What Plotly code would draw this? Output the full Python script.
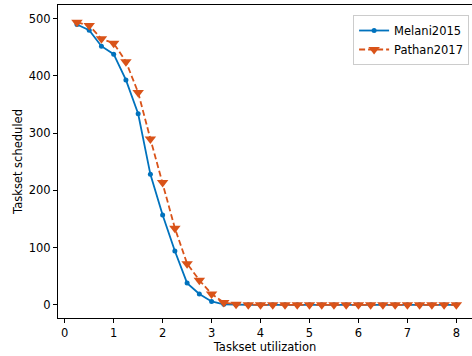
import plotly.graph_objects as go

utilization = [0.25, 0.5, 0.75, 1.0, 1.25, 1.5, 1.75, 2.0, 2.25, 2.5, 2.75, 3.0,
               3.25, 3.5, 3.75, 4.0, 4.25, 4.5, 4.75, 5.0, 5.25, 5.5, 5.75, 6.0,
               6.25, 6.5, 6.75, 7.0, 7.25, 7.5, 7.75, 8.0]
melani2015 = [490, 480, 452, 438, 393, 334, 228, 157, 94, 38, 19, 6,
              1, 0, 0, 0, 0, 0, 0, 0, 0, 0, 0, 0,
              0, 0, 0, 0, 0, 0, 0, 0]
pathan2017 = [494, 488, 465, 457, 425, 371, 290, 214, 134, 72, 43, 19,
              4, 1, 0, 0, 0, 0, 0, 0, 0, 0, 0, 0,
              0, 0, 0, 0, 0, 0, 0, 0]

x_ticks = [0, 1, 2, 3, 4, 5, 6, 7, 8]
y_ticks = [0, 100, 200, 300, 400, 500]

fig = go.Figure()
fig.add_trace(go.Scatter(
    x=utilization, y=melani2015, name="Melani2015", mode="lines+markers",
    line=dict(color="#0072BD", width=1.8),
    marker=dict(symbol="circle", size=5, color="#0072BD")))
fig.add_trace(go.Scatter(
    x=utilization, y=pathan2017, name="Pathan2017", mode="lines+markers",
    line=dict(color="#D95319", width=1.8, dash="6px,3px"),
    marker=dict(symbol="triangle-down", size=10, color="#D95319")))

font = dict(family="DejaVu Sans", size=11.5, color="#000000")
fig.update_layout(
    width=472, height=356,
    margin=dict(l=58, r=0, t=5, b=38),
    plot_bgcolor="white", paper_bgcolor="white",
    font=font,
    showlegend=True,
    legend=dict(x=0.993, y=0.968, xanchor="right", yanchor="top",
                bgcolor="rgba(255,255,255,0.8)", bordercolor="#cccccc", borderwidth=1,
                font=dict(family="DejaVu Sans", size=11.5, color="#000000"),
                tracegroupgap=0, itemwidth=30),
    xaxis=dict(range=[-0.1375, 8.32], tickvals=x_ticks, ticks="outside", ticklen=4,
               tickcolor="#000000", showline=True, linecolor="#000000", linewidth=1,
               mirror=True, showgrid=False, zeroline=False,
               title=dict(text="Taskset utilization", standoff=4, font=font)),
    yaxis=dict(range=[-23, 524], tickvals=y_ticks, ticks="outside", ticklen=4,
               tickcolor="#000000", showline=True, linecolor="#000000", linewidth=1,
               mirror=False, showgrid=False, zeroline=False,
               title=dict(text="Taskset scheduled", standoff=3, font=font)),
)
fig.write_html("out.html")
